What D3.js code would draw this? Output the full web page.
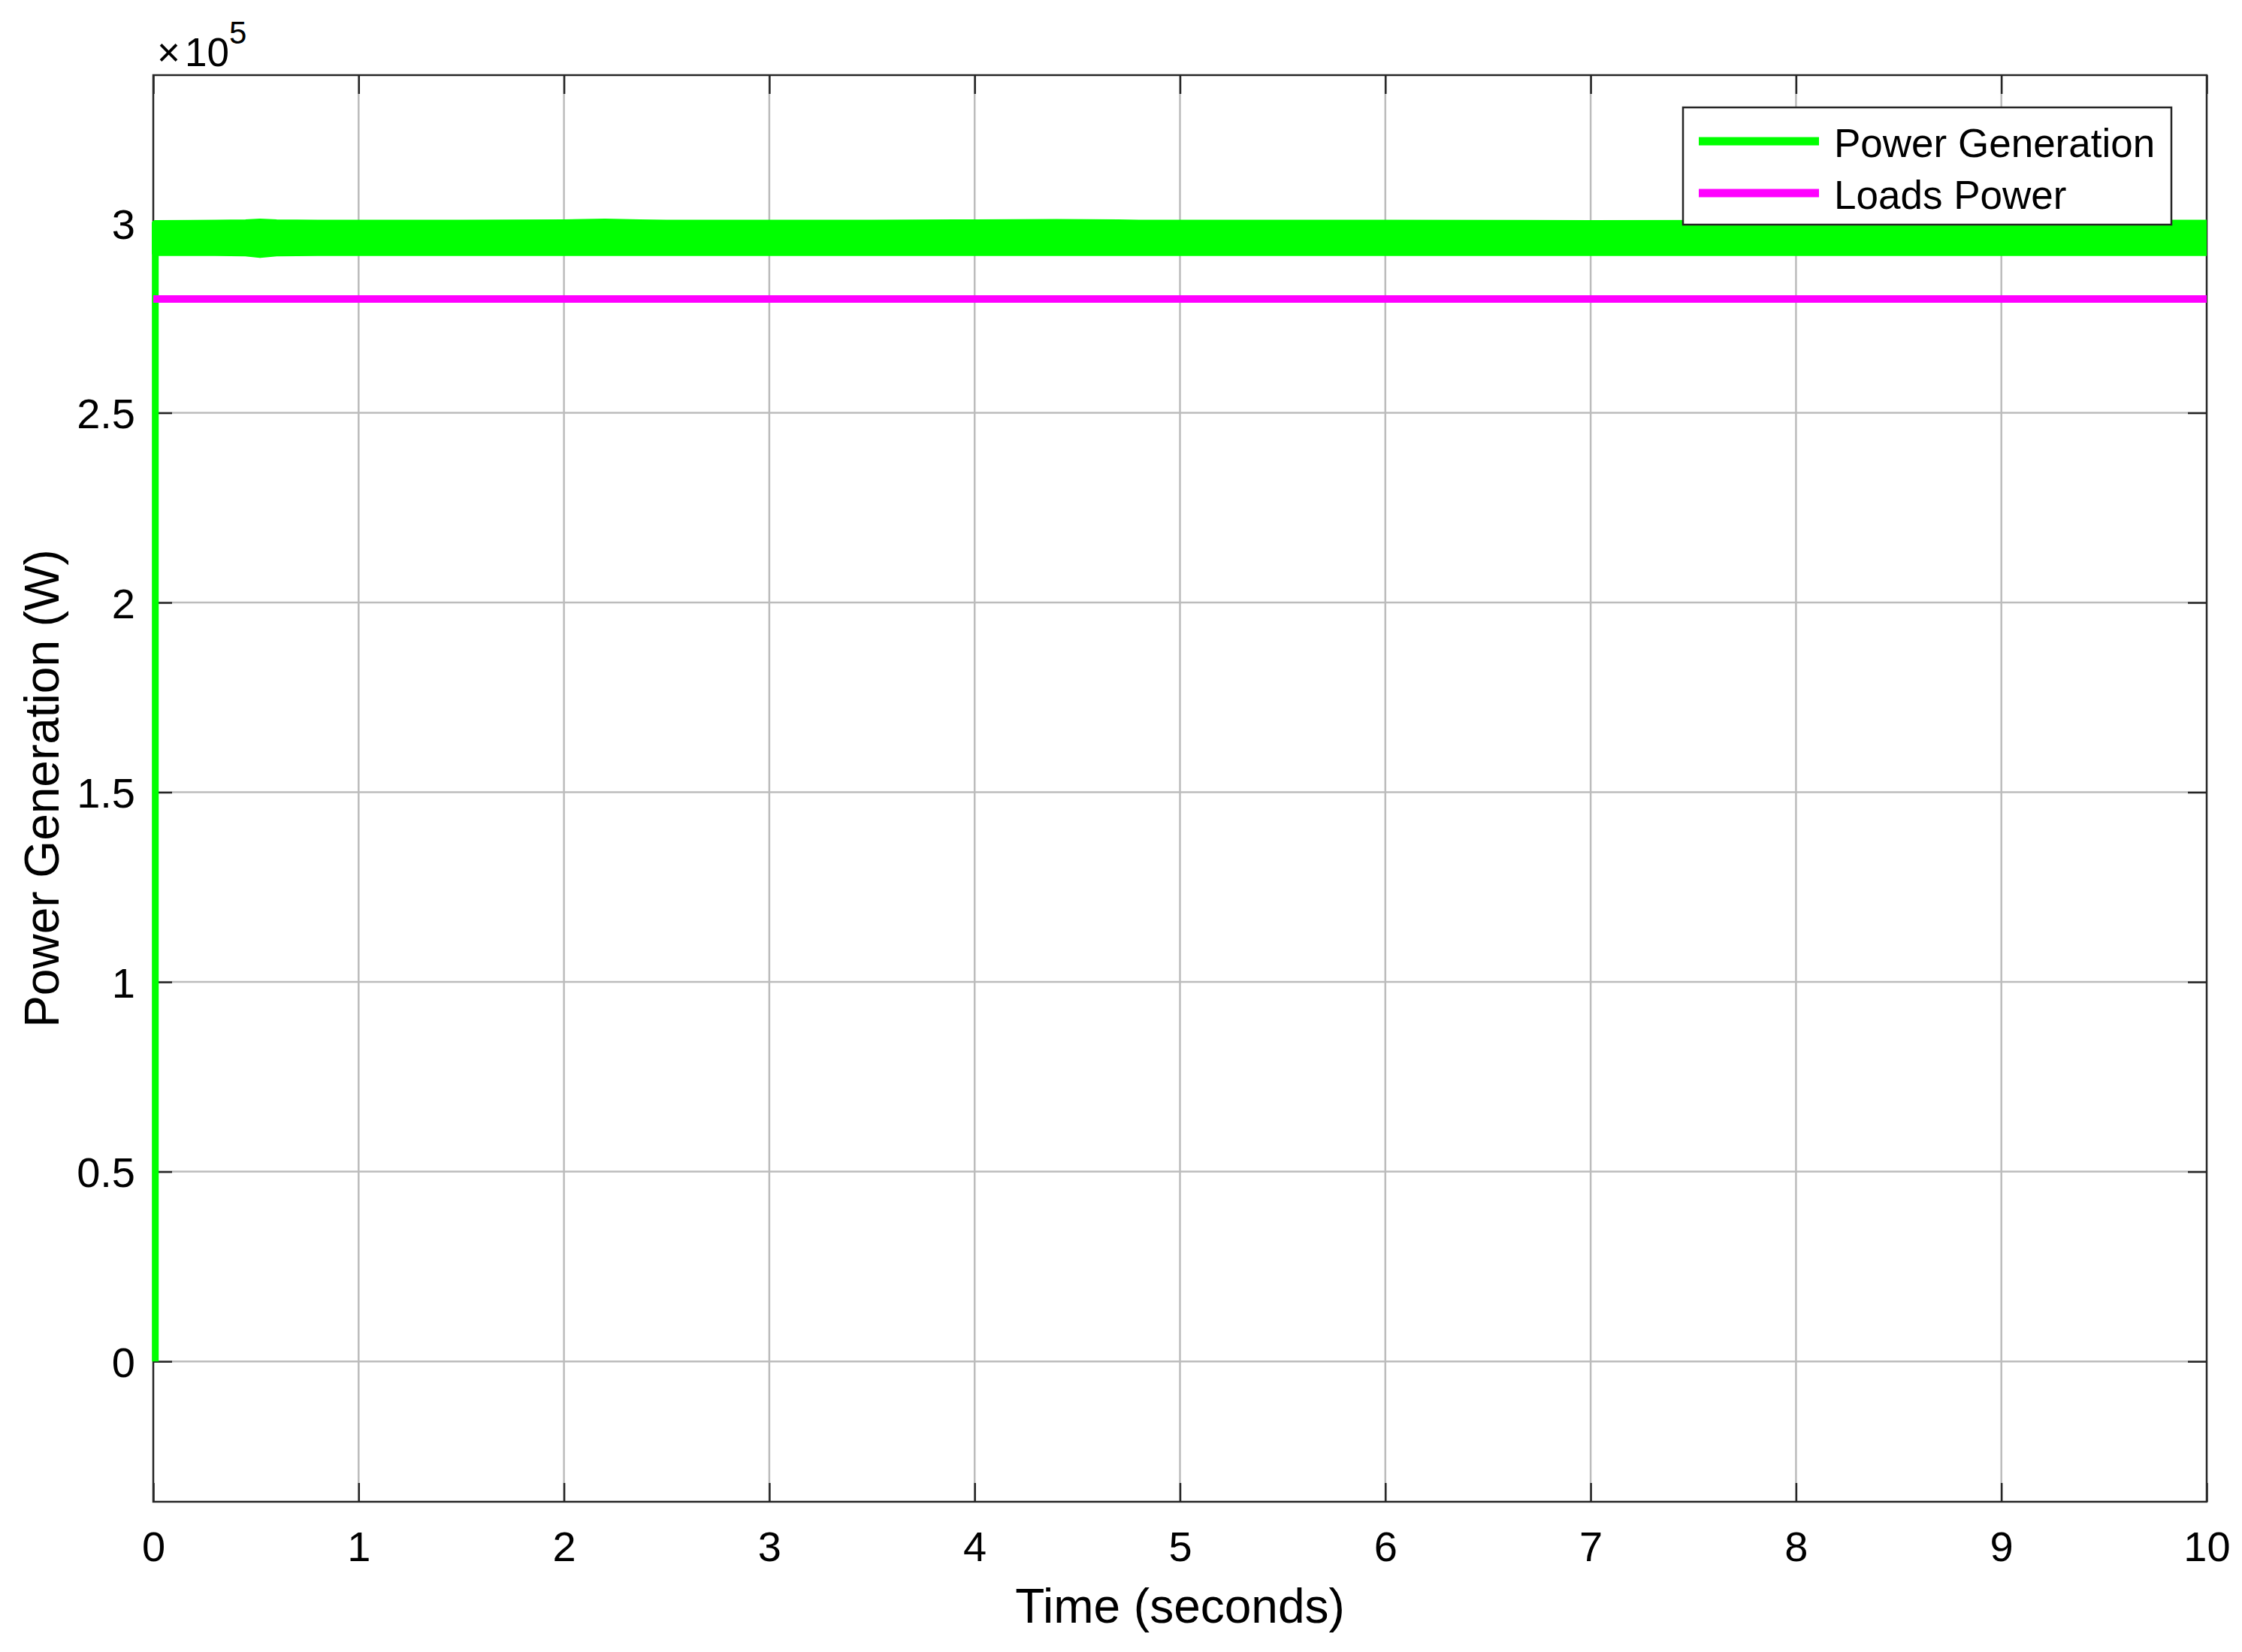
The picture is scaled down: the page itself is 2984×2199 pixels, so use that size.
<!DOCTYPE html>
<html>
<head>
<meta charset="utf-8">
<script src="https://cdn.jsdelivr.net/npm/d3@7"></script>
<style>
  html, body { margin: 0; padding: 0; background: #ffffff; }
  svg { display: block; }
  text { font-family: "Liberation Sans", Arial, Helvetica, sans-serif; fill: #000; }
</style>
</head>
<body>
<script>
// ---------------- data ----------------
const timeTicks = [0, 1, 2, 3, 4, 5, 6, 7, 8, 9, 10];
const powerTicks = [0, 50000, 100000, 150000, 200000, 250000, 300000];
const timeDomain = [0, 10];
const powerDomain = [-37000, 339000];

// start-up transient of the generated power
const riseTime = [0.01, 0.01];
const risePower = [0, 295000];

// envelope of the fast oscillation of the generated power
const envTime  = [0.01, 0.30, 0.45, 0.52, 0.60, 0.80, 1.50, 2.00, 2.20, 2.37, 2.50, 3.50, 4.00, 4.40, 4.70, 4.80, 6.00, 7.00, 8.00, 9.00, 10.00];
const genUpper = [299800, 299900, 300000, 300200, 300000, 299900, 299900, 300000, 300200, 300000, 299900, 299900, 300000, 300100, 300000, 299900, 299900, 299800, 299900, 299900, 299900];
const genLower = [292300, 292300, 292200, 291800, 292200, 292300, 292300, 292300, 292300, 292300, 292300, 292300, 292300, 292300, 292300, 292300, 292300, 292300, 292300, 292300, 292300];

// loads power (constant)
const loadTime = [0, 10];
const loadPower = [280000, 280000];

const seriesNames = ["Power Generation", "Loads Power"];
const seriesColors = ["#00ff00", "#ff00ff"];

// ---------------- layout ----------------
const W = 2984, H = 2199;
const L = 204, R = 2937, T = 100, B = 1999;

const svg = d3.select("body").append("svg").attr("width", W).attr("height", H);

const x = d3.scaleLinear().domain(timeDomain).range([L, R]);
const y = d3.scaleLinear().domain(powerDomain).range([B, T]);

const gridColor = "#bcbcbc";
const axisColor = "#262626";

svg.append("defs").append("clipPath").attr("id", "plotclip")
  .append("rect").attr("x", L - 2).attr("y", T).attr("width", R - L + 2).attr("height", B - T);

// grid
const grid = svg.append("g");
grid.selectAll("line.gx").data(timeTicks.slice(1, -1)).join("line")
  .attr("x1", d => x(d)).attr("x2", d => x(d)).attr("y1", T).attr("y2", B)
  .attr("stroke", gridColor).attr("stroke-width", 2.5);
grid.selectAll("line.gy").data(powerTicks).join("line")
  .attr("y1", d => y(d)).attr("y2", d => y(d)).attr("x1", L).attr("x2", R)
  .attr("stroke", gridColor).attr("stroke-width", 2.5);

// axes (ticks inward, on all four sides)
const tickLen = 25;
const fmtY = d => d3.format("~g")(d / 1e5);
const xAxisB = d3.axisBottom(x).tickValues(timeTicks).tickSizeInner(-tickLen).tickSizeOuter(0).tickFormat(d3.format("d"));
const xAxisT = d3.axisTop(x).tickValues(timeTicks).tickSizeInner(-tickLen).tickSizeOuter(0).tickFormat("");
const yAxisL = d3.axisLeft(y).tickValues(powerTicks).tickSizeInner(-tickLen).tickSizeOuter(0).tickPadding(24).tickFormat(fmtY);
const yAxisR = d3.axisRight(y).tickValues(powerTicks).tickSizeInner(-tickLen).tickSizeOuter(0).tickFormat("");

function styleAxis(g) {
  g.select(".domain").remove();
  g.selectAll(".tick line").attr("stroke", axisColor).attr("stroke-width", 2.5);
  g.selectAll(".tick text").attr("fill", "#000").style("font-size", "56px")
    .style("font-family", "'Liberation Sans', Arial, Helvetica, sans-serif");
}
const gB = svg.append("g").attr("transform", `translate(0,${B})`).call(xAxisB).call(styleAxis);
const gT = svg.append("g").attr("transform", `translate(0,${T})`).call(xAxisT).call(styleAxis);
const gL = svg.append("g").attr("transform", `translate(${L},0)`).call(yAxisL).call(styleAxis);
const gR = svg.append("g").attr("transform", `translate(${R},0)`).call(yAxisR).call(styleAxis);
gB.selectAll(".tick text").attr("y", 79).attr("dy", 0);
gL.selectAll(".tick text").attr("dy", "0.36em");

// box
svg.append("rect").attr("x", L).attr("y", T).attr("width", R - L).attr("height", B - T)
  .attr("fill", "none").attr("stroke", axisColor).attr("stroke-width", 2.5);

// exponent label ×10^5
const ex = svg.append("text").attr("x", 209).attr("y", 88).style("font-size", "53px").attr("fill", "#262626");
ex.append("tspan").text("\u00d7");
ex.append("tspan").attr("dx", 6).text("10");
ex.append("tspan").attr("dy", -30).style("font-size", "42px").text("5");

// data layer
const data = svg.append("g").attr("clip-path", "url(#plotclip)");
const envData = envTime.map((t, i) => ({ t, hi: genUpper[i], lo: genLower[i] }));
const area = d3.area().x(d => x(d.t)).y0(d => y(d.lo)).y1(d => y(d.hi));
data.append("path").datum(envData).attr("d", area)
  .attr("fill", seriesColors[0]).attr("stroke", seriesColors[0]).attr("stroke-width", 10)
  .attr("stroke-linejoin", "round");
const line = d3.line().x(d => x(d[0])).y(d => y(d[1]));
data.append("path").datum(riseTime.map((t, i) => [t, risePower[i]])).attr("d", line)
  .attr("fill", "none").attr("stroke", seriesColors[0]).attr("stroke-width", 9);
data.append("path").datum(loadTime.map((t, i) => [t, loadPower[i]])).attr("d", line)
  .attr("fill", "none").attr("stroke", seriesColors[1]).attr("stroke-width", 10);

// axis titles
svg.append("text").attr("x", (L + R) / 2).attr("y", 2160).attr("text-anchor", "middle")
  .style("font-size", "64px").text("Time (seconds)");
svg.append("text").attr("transform", `translate(78,${(T + B) / 2}) rotate(-90)`).attr("text-anchor", "middle")
  .style("font-size", "64px").text("Power Generation (W)");

// legend
const lg = svg.append("g");
lg.append("rect").attr("x", 2240).attr("y", 143).attr("width", 650).attr("height", 156)
  .attr("fill", "#fff").attr("stroke", axisColor).attr("stroke-width", 2.5);
const rows = [188, 257];
seriesNames.forEach((name, i) => {
  lg.append("line").attr("x1", 2261).attr("x2", 2421).attr("y1", rows[i]).attr("y2", rows[i])
    .attr("stroke", seriesColors[i]).attr("stroke-width", 11);
  lg.append("text").attr("x", 2441).attr("y", rows[i] + 21).style("font-size", "53px").text(name);
});
</script>
</body>
</html>
